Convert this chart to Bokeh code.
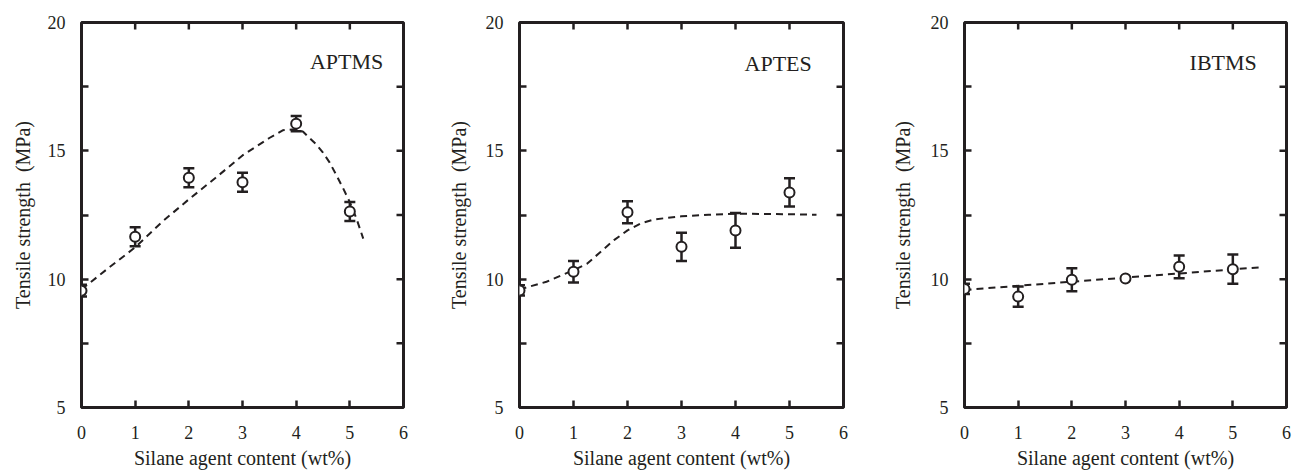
import math
from bokeh.plotting import figure
from bokeh.layouts import row
from bokeh.models import Range1d, FixedTicker, Whisker, TeeHead, ColumnDataSource, Label
from bokeh.embed import file_html
from bokeh.resources import INLINE

# ---------------- data ----------------
content = [0, 1, 2, 3, 4, 5]

aptms_y = [9.55, 11.65, 13.95, 13.78, 16.06, 12.64]
aptms_err = [0.23, 0.37, 0.37, 0.37, 0.30, 0.37]
aptms_fit_x = [0, 0.5, 1, 1.5, 2, 2.5, 3, 3.5, 3.75, 4, 4.125, 4.25, 4.375, 4.5, 4.625, 4.75, 4.875, 5, 5.125, 5.25]
aptms_fit_y = [9.6, 10.43, 11.24, 12.23, 13.11, 13.95, 14.82, 15.5, 15.8, 15.85, 15.75, 15.5, 15.25, 14.93, 14.54, 14.05, 13.54, 13.0, 12.35, 11.58]

aptes_y = [9.56, 10.29, 12.61, 11.26, 11.9, 13.38]
aptes_err = [0.2, 0.42, 0.43, 0.55, 0.68, 0.55]
aptes_fit_x = [0, 0.5, 1, 1.25, 1.5, 1.75, 2, 2.25, 2.5, 3, 3.5, 4, 5, 5.5]
aptes_fit_y = [9.6, 9.9, 10.35, 10.6, 11.06, 11.52, 11.9, 12.18, 12.33, 12.45, 12.51, 12.55, 12.53, 12.51]

ibtms_y = [9.62, 9.32, 9.98, 10.03, 10.48, 10.39]
ibtms_err = [0.2, 0.39, 0.45, 0.05, 0.44, 0.57]
ibtms_fit_x = [0, 5.55]
ibtms_fit_y = [9.58, 10.47]

x_ticks = [0, 1, 2, 3, 4, 5, 6]
y_major = [5, 10, 15, 20]
y_minor = [7.5, 12.5, 17.5]
y_all = [5, 7.5, 10, 12.5, 15, 17.5, 20]

x_title = "Silane agent content (wt%)"
y_title = "Tensile strength\u00a0\u00a0(MPa)"

INK = "#231f20"
FONT = "Liberation Serif"


def panel(name, ys, errs, fx, fy, label_x, label_y, width, height, bl, br, bt, bb, ylab_so):
    p = figure(width=width, height=height, x_range=Range1d(0, 6), y_range=Range1d(5, 20),
               output_backend="svg", toolbar_location=None,
               min_border_left=bl, min_border_right=br, min_border_top=bt, min_border_bottom=bb,
               x_axis_label=x_title, y_axis_label=y_title)
    p.background_fill_color = "white"
    p.border_fill_color = "white"
    p.outline_line_color = INK
    p.outline_line_width = 3
    p.xgrid.visible = False
    p.ygrid.visible = False

    p.xaxis.ticker = FixedTicker(ticks=x_ticks)
    p.yaxis.ticker = FixedTicker(ticks=y_major, minor_ticks=y_minor)

    for ax in (p.xaxis[0], p.yaxis[0]):
        ax.axis_line_color = None
        ax.major_tick_in = 7
        ax.major_tick_out = 0
        ax.major_tick_line_width = 2.5
        ax.major_tick_line_color = INK
        ax.minor_tick_in = 7
        ax.minor_tick_out = 0
        ax.minor_tick_line_width = 2.5
        ax.minor_tick_line_color = INK
        ax.major_label_text_font = FONT
        ax.major_label_text_font_size = "18px"
        ax.major_label_text_color = INK
        ax.axis_label_text_font = FONT
        ax.axis_label_text_font_size = "20px"
        ax.axis_label_text_font_style = "normal"
        ax.axis_label_text_color = INK
    p.xaxis.major_label_standoff = 18
    p.xaxis.axis_label_standoff = 5
    p.yaxis.major_label_standoff = 16
    p.yaxis.axis_label_standoff = ylab_so

    # inward ticks on the top and right edges (half of each dash is clipped by the frame)
    p.scatter(x_ticks, [20] * len(x_ticks), marker="dash", angle=math.pi / 2, size=14,
              line_color=INK, line_width=2.5)
    p.scatter([6] * len(y_all), y_all, marker="dash", size=14,
              line_color=INK, line_width=2.5)

    src = ColumnDataSource(dict(x=content, y=ys,
                                lo=[a - b for a, b in zip(ys, errs)],
                                hi=[a + b for a, b in zip(ys, errs)]))
    w = Whisker(base="x", lower="lo", upper="hi", source=src,
                line_color=INK, line_width=2.5,
                upper_head=TeeHead(size=11, line_color=INK, line_width=2.5),
                lower_head=TeeHead(size=11, line_color=INK, line_width=2.5),
                level="underlay")
    p.add_layout(w)

    p.line(fx, fy, line_color=INK, line_width=2, line_dash="7 5")
    p.scatter("x", "y", source=src, marker="circle", size=10,
              fill_color="white", line_color=INK, line_width=2)

    p.add_layout(Label(x=label_x, y=label_y, text=name, text_font=FONT, text_font_size="22px",
                       text_color=INK, text_align="center", text_baseline="middle"))
    return p


H = 486
p1 = panel("APTMS", aptms_y, aptms_err, aptms_fit_x, aptms_fit_y, 4.94, 18.47,
           440, H, 81, 37, 22, H - 22 - 387, 11)
p2 = panel("APTES", aptes_y, aptes_err, aptes_fit_x, aptes_fit_y, 4.79, 18.41,
           445, H, 79, 42, 20, H - 20 - 388, 13)
p3 = panel("IBTMS", ibtms_y, ibtms_err, ibtms_fit_x, ibtms_fit_y, 4.82, 18.46,
           410, H, 79, 9, 20, H - 20 - 387, 14)

layout = row(p1, p2, p3, spacing=0)
open("out.html", "w").write(file_html(layout, INLINE))
